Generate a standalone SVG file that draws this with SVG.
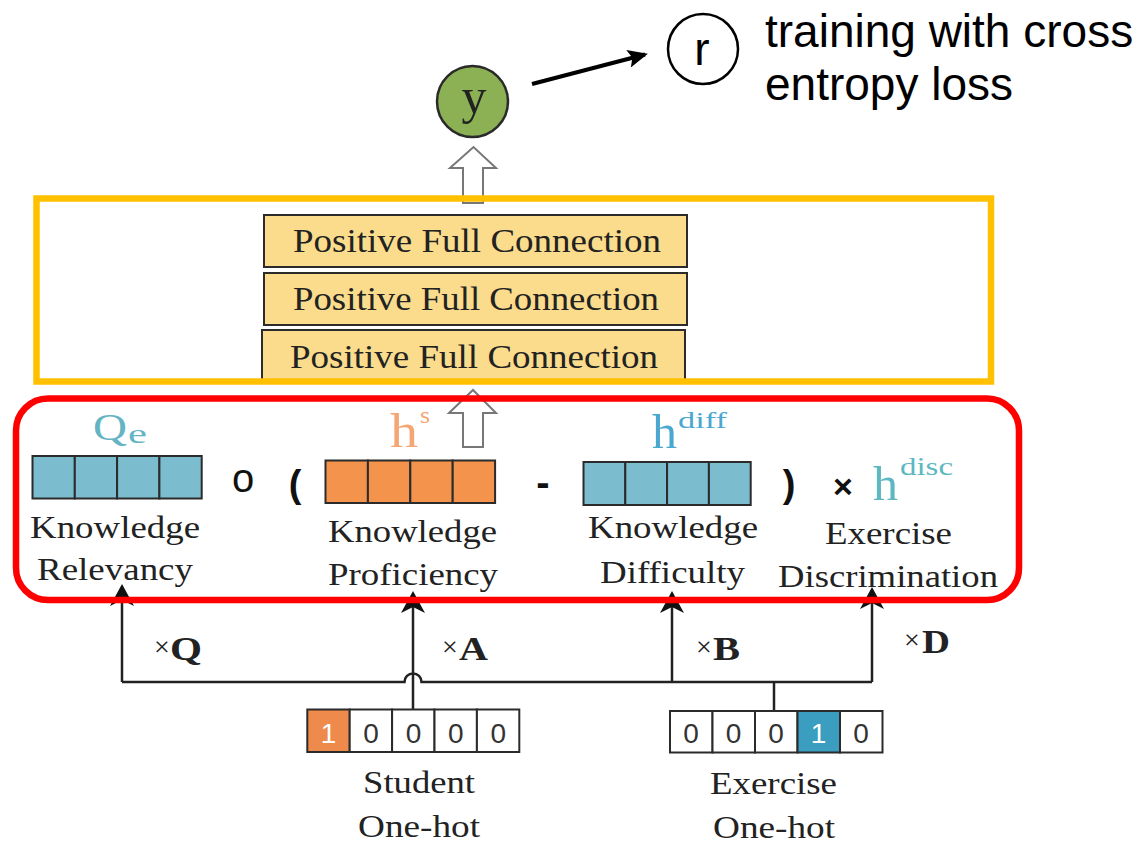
<svg xmlns="http://www.w3.org/2000/svg" width="1142" height="844" viewBox="0 0 1142 844">
  <defs>
    <style>
      .serif { font-family: "Liberation Serif", "Times New Roman", serif; fill: #222; }
      .sans { font-family: "Liberation Sans", Arial, sans-serif; }
      .label { font-size: 31px; }
      .pfc-box { fill: #FADC8C; stroke: #2b2b2b; stroke-width: 2; }
      .pfc-text { font-size: 33px; }
      .cell { stroke: #2b2b2b; stroke-width: 2; }
      .blue { fill: #7BBDCE; }
      .orange { fill: #F4934B; }
      .hot { stroke: #2b2b2b; stroke-width: 2; fill: #fff; }
      .digit { font-family: "Liberation Sans", Arial, sans-serif; font-size: 28px; fill: #333; text-anchor: middle; }
      .wire { fill: none; stroke: #222; stroke-width: 2.5; }
      .hollow { fill: #fff; stroke: #777; stroke-width: 2; }
      .op { font-family: "Liberation Sans", Arial, sans-serif; fill: #111; text-anchor: middle; }
      .mul { font-size: 28px; }
      .mat { font-size: 33px; font-weight: bold; }
    </style>
    <marker id="head" markerUnits="userSpaceOnUse" markerWidth="22" markerHeight="24" viewBox="0 0 22 24" refX="19" refY="12" orient="auto">
      <path d="M0 0 L22 12 L0 24 L6 12 Z" fill="#111"/>
    </marker>
    <marker id="head-small" markerUnits="userSpaceOnUse" markerWidth="20" markerHeight="18" viewBox="0 0 20 18" refX="17" refY="9" orient="auto">
      <path d="M0 0 L20 9 L0 18 L4 9 Z" fill="#000"/>
    </marker>
  </defs>

  <rect width="1142" height="844" fill="#fff"/>

  <!-- connectors -->
  <g id="connectors">
    <line x1="532" y1="84" x2="645" y2="54.5" stroke="#000" stroke-width="4" marker-end="url(#head-small)"/>
    <path class="hollow" d="M463 203 L463 168 L450 168 L473.5 147 L496 168 L483 168 L483 203 Z"/>
    <path class="hollow" d="M463 447 L463 413 L449 413 L473 390 L496 413 L483 413 L483 447 Z"/>
    <path class="wire" d="M122 682 H404.5 A8.5 8.5 0 0 1 421.5 682 H872"/>
    <line class="wire" x1="122" y1="682" x2="122" y2="587" marker-end="url(#head)"/>
    <line class="wire" x1="413" y1="709" x2="413" y2="594" marker-end="url(#head)"/>
    <line class="wire" x1="672" y1="682" x2="672" y2="594" marker-end="url(#head)"/>
    <line class="wire" x1="872" y1="682" x2="872" y2="590" marker-end="url(#head)"/>
    <line class="wire" x1="774" y1="682" x2="774" y2="711"/>
    <text class="serif mul" x="154" y="656">×</text>
    <text class="serif mat" x="170" y="660" textLength="32" lengthAdjust="spacingAndGlyphs">Q</text>
    <text class="serif mul" x="442" y="656">×</text>
    <text class="serif mat" x="459" y="660" textLength="29" lengthAdjust="spacingAndGlyphs">A</text>
    <text class="serif mul" x="696" y="656">×</text>
    <text class="serif mat" x="713" y="660" textLength="27" lengthAdjust="spacingAndGlyphs">B</text>
    <text class="serif mul" x="904" y="649">×</text>
    <text class="serif mat" x="922" y="653" textLength="28" lengthAdjust="spacingAndGlyphs">D</text>
  </g>

  <!-- prediction node -->
  <g id="node-y">
    <circle cx="472.5" cy="101.5" r="35.5" fill="#8CB054" stroke="#2a2a2a" stroke-width="2.5"/>
    <text class="serif" x="474" y="113" font-size="50" text-anchor="middle">y</text>
  </g>

  <!-- response label node -->
  <g id="node-r">
    <circle cx="703" cy="49" r="35" fill="none" stroke="#000" stroke-width="2.5"/>
    <text class="sans" x="702" y="65" font-size="46" text-anchor="middle" fill="#000">r</text>
    <text class="sans" x="765" y="47" font-size="46" fill="#000">training with cross</text>
    <text class="sans" x="765" y="100" font-size="46" fill="#000">entropy loss</text>
  </g>

  <!-- stacked positive full connection layers -->
  <g id="node-pfc">
    <rect class="pfc-box" x="264" y="215" width="423" height="52"/>
    <rect class="pfc-box" x="264" y="273" width="423" height="52"/>
    <rect class="pfc-box" x="262" y="330" width="423" height="52"/>
    <text class="serif pfc-text" x="293" y="252" textLength="368" lengthAdjust="spacingAndGlyphs">Positive Full Connection</text>
    <text class="serif pfc-text" x="293" y="310" textLength="366" lengthAdjust="spacingAndGlyphs">Positive Full Connection</text>
    <text class="serif pfc-text" x="290" y="368" textLength="368" lengthAdjust="spacingAndGlyphs">Positive Full Connection</text>
    <rect x="36.5" y="198.5" width="954.5" height="183" fill="none" stroke="#FFC000" stroke-width="6.5"/>
  </g>

  <!-- interaction function -->
  <g id="node-interaction">
    <!-- knowledge relevancy -->
    <g id="node-relevancy">
      <rect class="cell blue" x="32.5" y="456" width="42.3" height="42.5"/>
      <rect class="cell blue" x="74.8" y="456" width="42.3" height="42.5"/>
      <rect class="cell blue" x="117.1" y="456" width="42.3" height="42.5"/>
      <rect class="cell blue" x="159.4" y="456" width="42.3" height="42.5"/>
      <text class="serif" x="93" y="440" font-size="38" textLength="34" lengthAdjust="spacingAndGlyphs" style="fill:#64B4C4">Q</text>
      <text class="serif" x="128" y="443" font-size="28" textLength="19" lengthAdjust="spacingAndGlyphs" style="fill:#64B4C4">e</text>
      <text class="serif label" x="30" y="538" textLength="170" lengthAdjust="spacingAndGlyphs">Knowledge</text>
      <text class="serif label" x="37" y="580" textLength="156" lengthAdjust="spacingAndGlyphs">Relevancy</text>
    </g>
    <!-- knowledge proficiency -->
    <g id="node-proficiency">
      <rect class="cell orange" x="325.5" y="460.5" width="42.4" height="42.5"/>
      <rect class="cell orange" x="367.9" y="460.5" width="42.4" height="42.5"/>
      <rect class="cell orange" x="410.3" y="460.5" width="42.4" height="42.5"/>
      <rect class="cell orange" x="452.7" y="460.5" width="42.4" height="42.5"/>
      <text class="serif" x="390" y="447" font-size="48" textLength="28" lengthAdjust="spacingAndGlyphs" style="fill:#F4A674">h</text>
      <text class="serif" x="420" y="423" font-size="24" textLength="10" lengthAdjust="spacingAndGlyphs" style="fill:#F4A674">s</text>
      <text class="serif label" x="328" y="542" textLength="169" lengthAdjust="spacingAndGlyphs">Knowledge</text>
      <text class="serif label" x="328" y="585" textLength="170" lengthAdjust="spacingAndGlyphs">Proficiency</text>
    </g>
    <!-- knowledge difficulty -->
    <g id="node-difficulty">
      <rect class="cell blue" x="583.5" y="462" width="41.8" height="43"/>
      <rect class="cell blue" x="625.3" y="462" width="41.8" height="43"/>
      <rect class="cell blue" x="667.1" y="462" width="41.8" height="43"/>
      <rect class="cell blue" x="708.9" y="462" width="41.8" height="43"/>
      <text class="serif" x="652" y="448" font-size="48" textLength="25" lengthAdjust="spacingAndGlyphs" style="fill:#4AA8D0">h</text>
      <text class="serif" x="678" y="428" font-size="24" textLength="49" lengthAdjust="spacingAndGlyphs" style="fill:#4AA8D0">diff</text>
      <text class="serif label" x="588" y="538" textLength="170" lengthAdjust="spacingAndGlyphs">Knowledge</text>
      <text class="serif label" x="600" y="583" textLength="145" lengthAdjust="spacingAndGlyphs">Difficulty</text>
    </g>
    <!-- exercise discrimination -->
    <g id="node-discrimination">
      <text class="serif" x="873" y="500" font-size="48" textLength="25" lengthAdjust="spacingAndGlyphs" style="fill:#5DB8C2">h</text>
      <text class="serif" x="900" y="475" font-size="26" textLength="53" lengthAdjust="spacingAndGlyphs" style="fill:#5DB8C2">disc</text>
      <text class="serif label" x="825" y="544" textLength="127" lengthAdjust="spacingAndGlyphs">Exercise</text>
      <text class="serif label" x="778" y="587" textLength="220" lengthAdjust="spacingAndGlyphs">Discrimination</text>
    </g>
    <!-- operators -->
    <text class="op" x="243" y="492" font-size="40">o</text>
    <text class="op" x="295" y="497" font-size="38" font-weight="bold">(</text>
    <text class="op" x="543" y="495.5" font-size="40" font-weight="bold">-</text>
    <text class="op" x="789" y="497" font-size="38" font-weight="bold">)</text>
    <text class="op" x="843" y="498" font-size="34" font-weight="bold">×</text>
    <rect x="16" y="398.5" width="1003" height="201.5" rx="32" ry="32" fill="none" stroke="#FF0000" stroke-width="6.5"/>
  </g>

  <!-- student one-hot input -->
  <g id="node-student">
    <rect class="hot" x="307.3" y="709.5" width="42.4" height="42.5" style="fill:#EE8A4C"/>
    <rect class="hot" x="349.7" y="709.5" width="42.4" height="42.5"/>
    <rect class="hot" x="392.1" y="709.5" width="42.4" height="42.5"/>
    <rect class="hot" x="434.5" y="709.5" width="42.4" height="42.5"/>
    <rect class="hot" x="476.9" y="709.5" width="42.4" height="42.5"/>
    <text class="digit" x="328.5" y="743" style="fill:#fff">1</text>
    <text class="digit" x="371" y="743">0</text>
    <text class="digit" x="413.5" y="743">0</text>
    <text class="digit" x="455.9" y="743">0</text>
    <text class="digit" x="498.3" y="743">0</text>
    <text class="serif label" x="363" y="793" textLength="112" lengthAdjust="spacingAndGlyphs">Student</text>
    <text class="serif label" x="358" y="837" textLength="122" lengthAdjust="spacingAndGlyphs">One-hot</text>
  </g>

  <!-- exercise one-hot input -->
  <g id="node-exercise">
    <rect class="hot" x="670" y="711" width="42.5" height="41.5"/>
    <rect class="hot" x="712.5" y="711" width="42.5" height="41.5"/>
    <rect class="hot" x="755" y="711" width="42.5" height="41.5"/>
    <rect class="hot" x="797.5" y="711" width="42.5" height="41.5" style="fill:#3B9DBF"/>
    <rect class="hot" x="840" y="711" width="42.5" height="41.5"/>
    <text class="digit" x="691" y="743">0</text>
    <text class="digit" x="733.5" y="743">0</text>
    <text class="digit" x="776" y="743">0</text>
    <text class="digit" x="818.5" y="743" style="fill:#fff">1</text>
    <text class="digit" x="861" y="743">0</text>
    <text class="serif label" x="710" y="794" textLength="127" lengthAdjust="spacingAndGlyphs">Exercise</text>
    <text class="serif label" x="713" y="838" textLength="122" lengthAdjust="spacingAndGlyphs">One-hot</text>
  </g>
</svg>
